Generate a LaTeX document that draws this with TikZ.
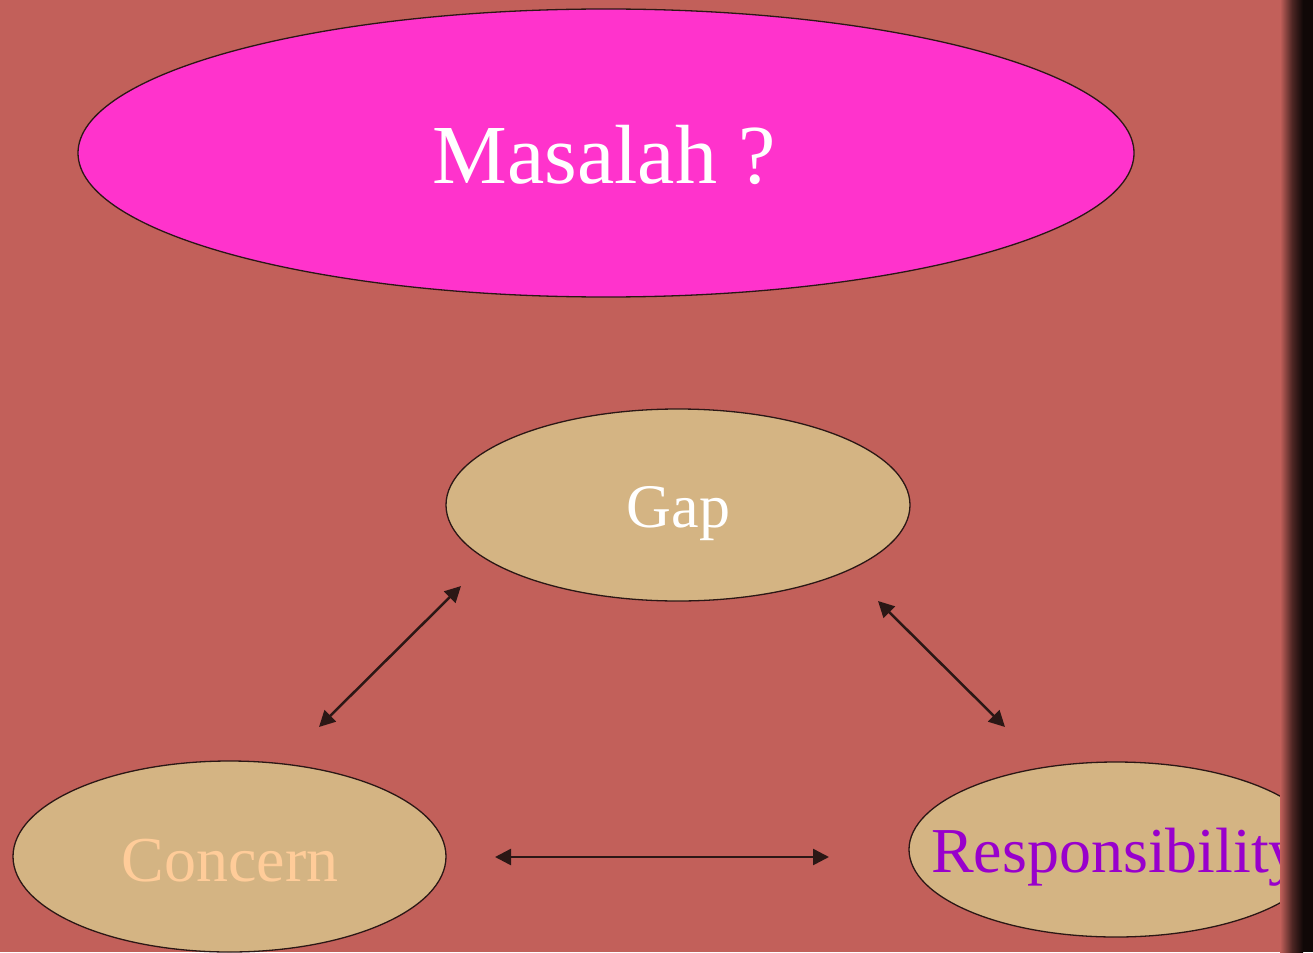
\documentclass[tikz,border=0pt]{standalone}
\usepackage{fontspec}
\setmainfont{Liberation Serif}
\usepackage{tikz}
\usetikzlibrary{shapes.geometric,arrows.meta}

\definecolor{bgred}{HTML}{C2605A}
\definecolor{pinkfill}{HTML}{FF33CC}
\definecolor{tanfill}{HTML}{D4B483}
\definecolor{darkline}{HTML}{2B1715}
\definecolor{peach}{HTML}{FFCC99}
\definecolor{violet}{HTML}{9900CC}

\begin{document}
\begin{tikzpicture}[x=1pt,y=-1pt]
 \tikzstyle{arrow} = [<->,>={Triangle[length=16pt,width=16pt]},line width=2.5pt,draw=darkline];
 \tikzstyle{blob}  = [ellipse,draw=darkline,line width=1.3pt,inner sep=0pt];
 \tikzstyle{placeP} = [fill=pinkfill];
 \tikzstyle{placeT} = [fill=tanfill];
 \tikzstyle{word} = [anchor=base,inner sep=0pt];

 %% background
 \fill[bgred] (0,0) rectangle (1313,952);
 \useasboundingbox (0,0) rectangle (1313,952);

 %% question
 \node[blob,placeP,name=masalah,minimum width=1056pt,minimum height=288pt] at (606,153) {};
 \node[word,name=masalahT,text=white,font=\fontsize{84}{90}\selectfont] at (604,183) {Masalah ?};

 %% the three parts
 \node[blob,placeT,name=gap,minimum width=464pt,minimum height=192pt] at (678,505) {};
 \node[word,name=gapT,text=white,font=\fontsize{62}{70}\selectfont] at (678.5,527) {Gap};

 \node[blob,placeT,name=concern,minimum width=433pt,minimum height=191pt] at (229.5,856.5) {};
 \node[word,name=concernT,text=peach,font=\fontsize{64}{70}\selectfont] at (230,881) {Concern};

 \node[blob,placeT,name=resp,minimum width=414pt,minimum height=175pt] at (1116,849.5) {};
 \node[word,name=respT,text=violet,font=\fontsize{64}{70}\selectfont] at (1116,872) {Responsibility};

 %% arrow ends
 \coordinate (gapL) at (461,586);
 \coordinate (conT) at (319,727);
 \coordinate (gapR) at (878,601);
 \coordinate (resT) at (1005,727);
 \coordinate (conR) at (495,857);
 \coordinate (resL) at (829,857);

 \draw[arrow] (gapL) -- (conT);
 \draw[arrow] (gapR) -- (resT);
 \draw[arrow] (conR) -- (resL);

 %% dark edge at the right
 \shade[left color=bgred,right color=black!60!bgred] (1280,0) rectangle (1292,952);
 \shade[left color=black!60!bgred,right color=black!92!bgred] (1292,0) rectangle (1303,952);
 \fill[black!92!bgred] (1303,0) rectangle (1313,952);
\end{tikzpicture}
\end{document}
